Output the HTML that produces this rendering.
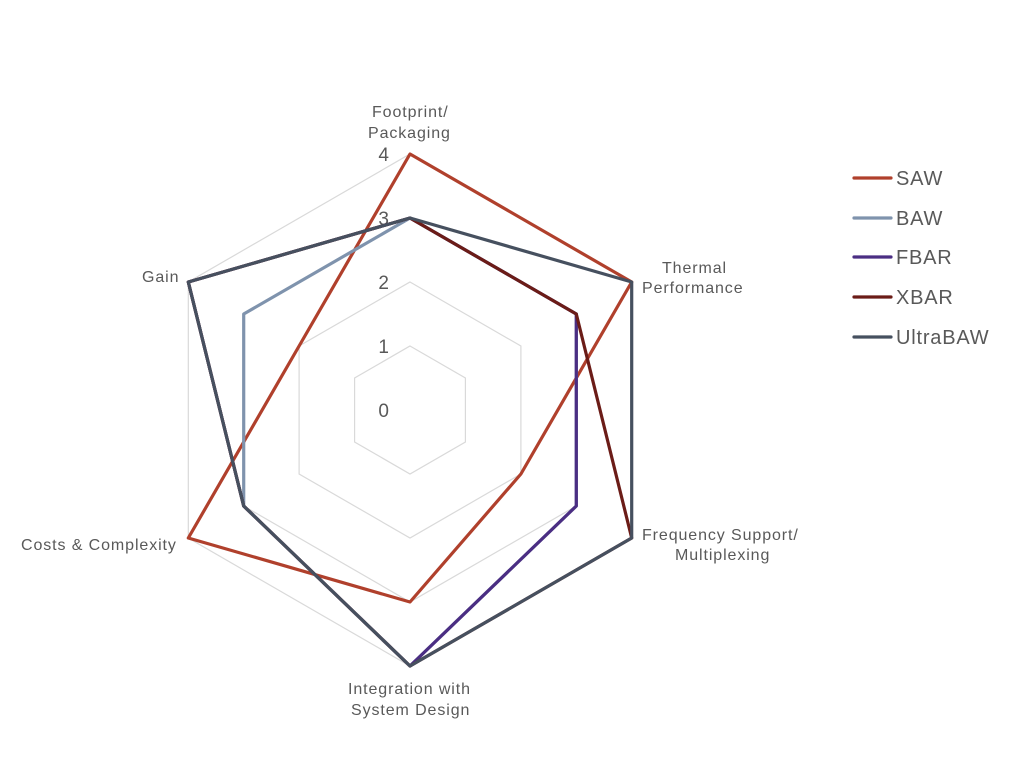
<!DOCTYPE html>
<html><head><meta charset="utf-8"><style>
html,body{margin:0;padding:0;background:#fff;}
svg{display:block;font-family:"Liberation Sans",Arial,sans-serif;}
</style></head><body>
<svg width="1024" height="781" viewBox="0 0 1024 781" xmlns="http://www.w3.org/2000/svg">
<rect width="1024" height="781" fill="#fff"/>
<g fill="none" stroke="#d9d9d9" stroke-width="1.2">
<polygon points="410,346 465.4,378 465.4,442 410,474 354.6,442 354.6,378"/>
<polygon points="410,282 520.9,346 520.9,474 410,538 299.1,474 299.1,346"/>
<polygon points="410,218 576.3,314 576.3,506 410,602 243.7,506 243.7,314"/>
<polygon points="410,154 631.7,282 631.7,538 410,666 188.3,538 188.3,282"/>
</g>
<g fill="#595959" font-size="19" text-anchor="end">
<text x="389" y="417">0</text>
<text x="389" y="353">1</text>
<text x="389" y="289">2</text>
<text x="389" y="225">3</text>
<text x="389" y="161">4</text>
</g>
<g fill="none" stroke-width="3.2" stroke-linejoin="round">
<polygon stroke="#b0402c" points="410,154 631.7,282 520.9,474 410,602 188.3,538 299.1,346"/>
<polygon stroke="#7f93ad" points="410,218 576.3,314 576.3,506 410,666 243.7,506 243.7,314"/>
<polygon stroke="#4b2e83" points="410,218 576.3,314 576.3,506 410,666 243.7,506 188.3,282"/>
<polygon stroke="#6b1c17" points="410,218 576.3,314 631.7,538 410,666 243.7,506 188.3,282"/>
<polygon stroke="#46505f" points="410,218 631.7,282 631.7,538 410,666 243.7,506 188.3,282"/>
</g>
<g fill="#595959" font-size="16" letter-spacing="0.9">
<text x="372" y="117">Footprint/</text>
<text x="368" y="138">Packaging</text>
<text x="662" y="273">Thermal</text>
<text x="642" y="293">Performance</text>
<text x="642" y="540">Frequency Support/</text>
<text x="675" y="560">Multiplexing</text>
<text x="348" y="694">Integration with</text>
<text x="351" y="715">System Design</text>
<text x="21" y="550">Costs &amp; Complexity</text>
<text x="142" y="282">Gain</text>
</g>
<g stroke-width="3.2" stroke-linecap="round">
<line x1="854" y1="178" x2="891" y2="178" stroke="#b0402c"/>
<line x1="854" y1="218" x2="891" y2="218" stroke="#7f93ad"/>
<line x1="854" y1="257" x2="891" y2="257" stroke="#4b2e83"/>
<line x1="854" y1="297" x2="891" y2="297" stroke="#6b1c17"/>
<line x1="854" y1="337" x2="891" y2="337" stroke="#46505f"/>
</g>
<g fill="#595959" font-size="20" letter-spacing="0.8">
<text x="896" y="185">SAW</text>
<text x="896" y="225">BAW</text>
<text x="896" y="264">FBAR</text>
<text x="896" y="304">XBAR</text>
<text x="896" y="344">UltraBAW</text>
</g>
</svg>
</body></html>
